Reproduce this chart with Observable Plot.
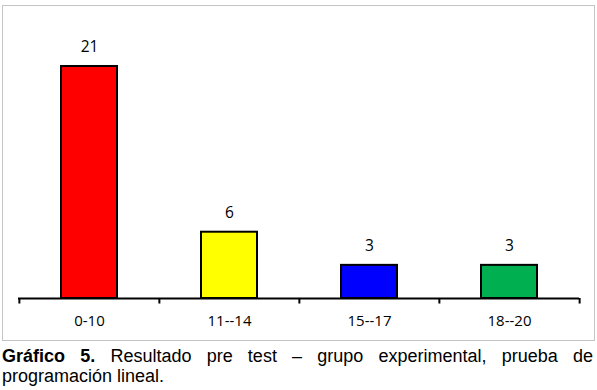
<!DOCTYPE html>
<html>
<head>
<meta charset="utf-8">
<script src="https://cdn.jsdelivr.net/npm/d3@7"></script>
<script src="https://cdn.jsdelivr.net/npm/@observablehq/plot@0.6"></script>
<style>
  html, body { margin: 0; padding: 0; background: #fff; }
  #wrap { position: relative; width: 597px; height: 390px; overflow: hidden; }
  #frame { position: absolute; left: 2px; top: 5px; width: 591px; height: 334px; border: 1.5px solid #c4c4c4; }
  #chart { position: absolute; left: 0; top: 0; }
  #caption { position: absolute; left: 2px; top: 346px; width: 591px; margin: 0;
    font-family: "Liberation Sans", Arial, sans-serif; font-size: 18px; line-height: 20px;
    text-align: justify; color: #000; }
</style>
</head>
<body>
<div id="wrap">
  <div id="frame"></div>
  <div id="chart"></div>
  <p id="caption"><b>Gráfico 5.</b> Resultado pre test – grupo experimental, prueba de programación lineal.</p>
</div>
<script>
const categories = ["0-10", "11--14", "15--17", "18--20"];
const counts = [21, 6, 3, 3];
const colors = ["#FF0000", "#FFFF00", "#0000FF", "#00B050"];

const data = categories.map((c, i) => ({category: c, count: counts[i], color: colors[i]}));

const W = 597, H = 342, ML = 18, MR = 18;
const step = (W - ML - MR) / categories.length;

const chart = Plot.plot({
  width: W,
  height: H,
  marginLeft: ML,
  marginRight: MR,
  marginTop: 66,
  marginBottom: 44,
  style: {fontFamily: "'Open Sans', sans-serif", fontSize: "15px", background: "transparent", color: "#000"},
  x: {domain: categories, paddingInner: 0.6, paddingOuter: 0.3, label: null},
  y: {domain: [0, 21], axis: null},
  marks: [
    Plot.barY(data, {x: "category", y: "count", fill: "color", stroke: "#000", strokeWidth: 2}),
    Plot.text(data, {x: "category", y: "count", text: d => String(d.count), dy: -19, fontSize: 15.5, fill: "#000"}),
    Plot.ruleY([0], {stroke: "#000", strokeWidth: 2}),
    Plot.ruleX(categories, {x: d => d, y1: 0, y2: -0.5, dx: -step / 2, stroke: "#000", strokeWidth: 2}),
    Plot.ruleX(categories.slice(-1), {x: d => d, y1: 0, y2: -0.5, dx: step / 2, stroke: "#000", strokeWidth: 2}),
    Plot.axisX({tickSize: 0, tickPadding: 17, fontSize: 15, label: null})
  ]
});
document.getElementById("chart").appendChild(chart);
</script>
</body>
</html>
